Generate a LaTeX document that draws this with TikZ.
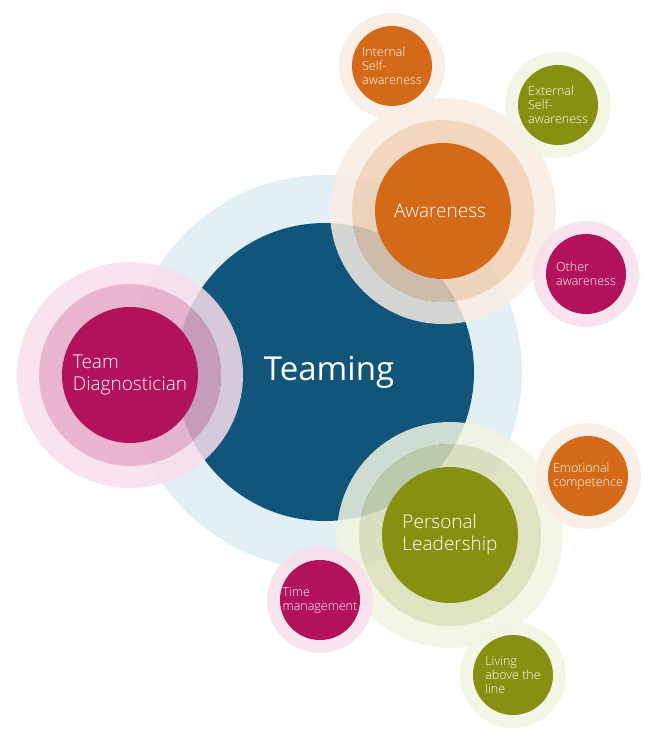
\documentclass[tikz,border=0pt]{standalone}
\usepackage{fontspec}
\setmainfont{Open Sans}[UprightFont=* Light]
\newfontfamily\teamfont{Open Sans}
\usepackage{tikz}

\definecolor{teamblue}{HTML}{11567A}
\definecolor{teamhalo}{HTML}{E2EFF5}
\definecolor{awareorange}{HTML}{D46A17}
\definecolor{orangemid}{HTML}{F0CFB3}
\definecolor{orangeout}{HTML}{F8ECE3}
\definecolor{diagpink}{HTML}{B2125B}
\definecolor{pinkmid}{HTML}{E6A9C7}
\definecolor{pinkout}{HTML}{F8DEEC}
\definecolor{leadolive}{HTML}{879111}
\definecolor{olivemid}{HTML}{D9DEB6}
\definecolor{oliveout}{HTML}{F1F4E1}

\begin{document}
\begin{tikzpicture}[x=1pt,y=-1pt,
  hub/.style={circle, fill=#1, minimum size=136pt, inner sep=0pt, text=white, align=left, font=\fontsize{19}{22}\selectfont},
  leaf/.style={circle, fill=#1, minimum size=80pt, inner sep=0pt, text=white, align=left, font=\fontsize{12.5}{14}\selectfont},
  halo/.style={fill=#1, fill opacity=0.85}]

\useasboundingbox (0,0) rectangle (670,740);

% centre
\coordinate (tm) at (325,372);
\fill[teamhalo] (tm) circle (197pt);
\node[circle, fill=teamblue, minimum size=298pt, inner sep=0pt, text=white, font=\teamfont\fontsize{33}{38}\selectfont] (teaming) at (tm) {\hspace{8pt}Teaming};

% the three hubs and their rings
\foreach \c/\x/\y/\mid/\out in {td/130/375/pinkmid/pinkout, aw/443/211/orangemid/orangeout, pl/450/535/olivemid/oliveout}
{
  \coordinate (\c) at (\x,\y);
  \fill[halo=\out, even odd rule] (\c) circle (113pt) circle (91pt);
  \fill[halo=\mid] (\c) circle (91pt);
}
\node[hub=diagpink] (diag) at (td) {Team\\Diagnostician};
\node[hub=awareorange] (aware) at (aw) {Awareness\hspace{6pt}};
\node[hub=leadolive] (lead) at (pl) {Personal\\Leadership};

% small circles
\foreach \n/\x/\y/\col/\out/\txt in {
  internal/392/66/awareorange/orangeout/{Internal\\Self-\\awareness},
  external/558/105/leadolive/oliveout/{External\\Self-\\awareness},
  other/586/274/diagpink/pinkout/{Other\\awareness},
  emotional/588/476/awareorange/orangeout/{Emotional\\competence},
  time/320/600/diagpink/pinkout/{Time\\management},
  living/513/675/leadolive/oliveout/{Living\\above the\\line}}
{
  \fill[halo=\out] (\x,\y) circle (53pt);
  \node[leaf=\col] (\n) at (\x,\y) {\txt};
}

\end{tikzpicture}
\end{document}
